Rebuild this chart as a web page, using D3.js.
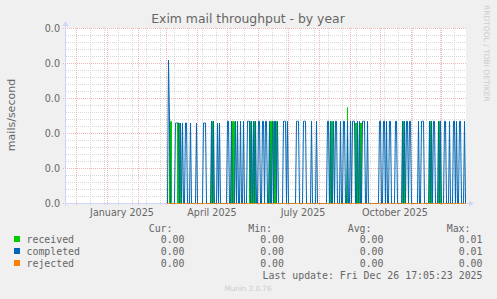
<!DOCTYPE html>
<html>
<head>
<meta charset="utf-8">
<script src="https://cdn.jsdelivr.net/npm/d3@7/dist/d3.min.js"></script>
<style>
    html, body { margin: 0; padding: 0; background: #f0f0f0; }
</style>
</head>
<body>
<div id="chart"></div>
<script>
const parseDay = d3.timeParse("%Y-%m-%d");

// Graph window (400 days, one pixel per day) and first day with stored data
const periodDates = ["2024-11-21", "2025-12-26"];
const firstDataDay = "2025-03-02";

const seriesNames = ["received", "completed", "rejected"];

// received: runs of days with a steady rate (mails/second)
const receivedFrom = ["2025-03-04", "2025-03-12", "2025-04-15", "2025-05-05", "2025-05-23", "2025-05-27",
    "2025-06-12", "2025-06-16", "2025-08-12", "2025-08-29", "2025-09-06", "2025-09-10",
    "2025-10-23", "2025-11-19", "2025-11-28"];
const receivedTo = ["2025-03-06", "2025-03-15", "2025-04-17", "2025-05-08", "2025-05-25", "2025-05-29",
    "2025-06-14", "2025-06-19", "2025-08-14", "2025-08-29", "2025-09-08", "2025-09-12",
    "2025-10-25", "2025-11-21", "2025-11-30"];
const receivedValues = [0.0047, 0.0046, 0.0047, 0.0047, 0.0047, 0.0047,
    0.0047, 0.0047, 0.0047, 0.0055, 0.0046, 0.0046,
    0.0047, 0.0047, 0.0047];

// completed: first day of each burst, how many days it lasted, and its rate
const completedDays = ["2025-03-03", "2025-03-04", "2025-03-10", "2025-03-12", "2025-03-15", "2025-03-17",
    "2025-03-20", "2025-03-25", "2025-03-31", "2025-04-07", "2025-04-09", "2025-04-15", "2025-04-17",
    "2025-04-21", "2025-04-23", "2025-05-01", "2025-05-05", "2025-05-09", "2025-05-11", "2025-05-14",
    "2025-05-17", "2025-05-21", "2025-05-23", "2025-05-25", "2025-05-27", "2025-05-29", "2025-06-01",
    "2025-06-05", "2025-06-08", "2025-06-12", "2025-06-15", "2025-06-17", "2025-06-20", "2025-06-26",
    "2025-06-28", "2025-06-30", "2025-07-09", "2025-07-11", "2025-07-16", "2025-07-18", "2025-07-24",
    "2025-07-29", "2025-08-09", "2025-08-12", "2025-08-15", "2025-08-17", "2025-08-22", "2025-08-25",
    "2025-08-29", "2025-09-01", "2025-09-03", "2025-09-05", "2025-09-08", "2025-09-10", "2025-09-13",
    "2025-09-15", "2025-09-18", "2025-09-30", "2025-10-04", "2025-10-07", "2025-10-10", "2025-10-16",
    "2025-10-23", "2025-10-25", "2025-10-27", "2025-10-30", "2025-11-08", "2025-11-11", "2025-11-13",
    "2025-11-19", "2025-11-21", "2025-11-23", "2025-11-28", "2025-11-30", "2025-12-04", "2025-12-09",
    "2025-12-13", "2025-12-16", "2025-12-19", "2025-12-24"];
const completedSpans = [1, 1, 2, 2, 1, 1,
    2, 1, 1, 2, 1, 1, 1,
    1, 1, 2, 1, 1, 1, 1,
    1, 2, 1, 1, 1, 1, 2,
    2, 2, 1, 1, 2, 1, 2,
    1, 1, 2, 1, 2, 1, 1,
    1, 2, 1, 1, 2, 1, 2,
    1, 1, 2, 1, 1, 1, 2,
    1, 1, 2, 2, 1, 2, 2,
    1, 1, 2, 2, 1, 2, 1,
    1, 1, 2, 1, 1, 2, 1,
    2, 1, 2, 1];
const completedValues = [0.0082, 0.0047, 0.0046, 0.0046, 0.0046, 0.0046,
    0.0046, 0.0046, 0.0046, 0.0046, 0.0046, 0.0047, 0.0047,
    0.0046, 0.0046, 0.0047, 0.0047, 0.0047, 0.0047, 0.0047,
    0.0047, 0.0047, 0.0047, 0.0047, 0.0047, 0.0047, 0.0047,
    0.0047, 0.0047, 0.0047, 0.0047, 0.0047, 0.0047, 0.0047,
    0.0047, 0.0047, 0.0047, 0.0047, 0.0047, 0.0047, 0.0047,
    0.0047, 0.0047, 0.0047, 0.0047, 0.0047, 0.0047, 0.0047,
    0.0047, 0.0047, 0.0047, 0.0047, 0.0047, 0.0047, 0.0047,
    0.0047, 0.0047, 0.0047, 0.0047, 0.0047, 0.0047, 0.0047,
    0.0047, 0.0047, 0.0047, 0.0047, 0.0047, 0.0047, 0.0047,
    0.0047, 0.0047, 0.0047, 0.0047, 0.0047, 0.0047, 0.0047,
    0.0047, 0.0047, 0.0047, 0.0047];

// rejected: no rejections over the whole year
const rejectedValue = 0;

const yTicks = [0, 0.002, 0.004, 0.006, 0.008, 0.01];
const xLabels = ["January 2025", "April 2025", "July 2025", "October 2025"];
const xLabelDates = ["2025-01-16", "2025-04-16", "2025-07-16", "2025-10-16"];

const statHeaders = ["Cur:", "Min:", "Avg:", "Max:"];
const statCur = [0, 0, 0];
const statMin = [0, 0, 0];
const statAvg = [0, 0, 0];
const statMax = [0.01, 0.01, 0.0];
const lastUpdate = "Fri Dec 26 17:05:23 2025";

class Chart {
    constructor() {
        const attrs = {
            container: "#chart",
            svgWidth: 497,
            svgHeight: 299,
            plotLeft: 66,
            plotRight: 466,
            plotTop: 28,
            plotBottom: 203,
            defaultFont: "DejaVu Sans",
            monoFont: "DejaVu Sans Mono",
            fontColor: "#666666",
            axisColor: "#cfd6f8",
            gridColor: "#d8d8d8",
            majorGridColor: "#f2b4b4",
            colors: ["#00cc00", "#0066b3", "#ff8000"]
        };
        this.getState = () => attrs;
        this.setState = (d) => Object.assign(attrs, d);
    }

    render() {
        this.buildData();
        this.drawSvg();
        this.drawGrid();
        this.drawSeries();
        this.drawAxes();
        this.drawTexts();
        this.drawLegend();
        return this;
    }

    buildData() {
        const { plotLeft, plotRight, plotTop, plotBottom } = this.getState();

        const end = parseDay(periodDates[1]);
        const days = d3.timeDay.range(parseDay(firstDataDay), d3.timeDay.offset(end, 1));

        const receivedByDay = new Map();
        receivedFrom.forEach((from, i) => {
            d3.timeDay.range(parseDay(from), d3.timeDay.offset(parseDay(receivedTo[i]), 1))
                .forEach(day => receivedByDay.set(+day, receivedValues[i]));
        });

        const completedByDay = new Map();
        completedDays.forEach((from, i) => {
            const start = parseDay(from);
            d3.timeDay.range(start, d3.timeDay.offset(start, completedSpans[i]))
                .forEach(day => completedByDay.set(+day, completedValues[i]));
        });

        const daily = days.map(day => ({
            day,
            received: receivedByDay.get(+day) || 0,
            completed: completedByDay.get(+day) || 0,
            rejected: rejectedValue
        }));

        const x = d3.scaleTime()
            .domain(periodDates.map(parseDay))
            .range([plotLeft, plotRight]);
        const y = d3.scaleLinear()
            .domain([yTicks[0], yTicks[yTicks.length - 1]])
            .range([plotBottom, plotTop]);

        this.setState({ daily, x, y });
    }

    drawSvg() {
        const { container, svgWidth, svgHeight, defaultFont, plotLeft, plotRight, plotTop, plotBottom } = this.getState();
        const svg = d3.select(container).append("svg")
            .attr("width", svgWidth)
            .attr("height", svgHeight)
            .attr("font-family", defaultFont)
            .style("display", "block");

        svg.append("rect")
            .attr("width", svgWidth)
            .attr("height", svgHeight)
            .attr("fill", "#f0f0f0");

        svg.append("rect")
            .attr("x", plotLeft)
            .attr("y", plotTop)
            .attr("width", plotRight - plotLeft)
            .attr("height", plotBottom - plotTop + 1)
            .attr("fill", "#ffffff");

        this.setState({ svg });
    }

    drawGrid() {
        const { svg, x, y, plotLeft, plotRight, plotTop, plotBottom, gridColor, majorGridColor } = this.getState();
        const grid = svg.append("g").attr("class", "grid");
        const [start, end] = x.domain();

        // minor vertical lines every second Sunday, major on month starts
        const minorDays = d3.range(-1, 30)
            .map(i => d3.timeDay.offset(parseDay("2024-12-01"), 14 * i))
            .filter(d => d > start && d < end);
        const months = d3.timeMonth.range(start, end);

        const step = (yTicks[1] - yTicks[0]) / 5;
        const minorValues = d3.range(0, 26).map(i => i * step).filter((v, i) => i % 5 !== 0);

        grid.selectAll(".vminor").data(minorDays).join("line")
            .attr("class", "vminor")
            .attr("x1", d => Math.round(x(d)) + 0.5).attr("x2", d => Math.round(x(d)) + 0.5)
            .attr("y1", plotTop).attr("y2", plotBottom + 2)
            .attr("stroke", gridColor).attr("stroke-dasharray", "1,1");

        grid.selectAll(".hminor").data(minorValues).join("line")
            .attr("class", "hminor")
            .attr("x1", plotLeft).attr("x2", plotRight)
            .attr("y1", d => Math.round(y(d)) + 0.5).attr("y2", d => Math.round(y(d)) + 0.5)
            .attr("stroke", gridColor).attr("stroke-dasharray", "1,1");

        grid.selectAll(".vmajor").data(months).join("line")
            .attr("class", "vmajor")
            .attr("x1", d => Math.round(x(d)) + 0.5).attr("x2", d => Math.round(x(d)) + 0.5)
            .attr("y1", plotTop).attr("y2", plotBottom + 3)
            .attr("stroke", majorGridColor).attr("stroke-dasharray", "1,1");

        grid.selectAll(".hmajor").data(yTicks).join("line")
            .attr("class", "hmajor")
            .attr("x1", plotLeft - 3).attr("x2", plotRight)
            .attr("y1", d => Math.round(y(d)) + 0.5).attr("y2", d => Math.round(y(d)) + 0.5)
            .attr("stroke", majorGridColor).attr("stroke-dasharray", "1,1");
    }

    drawSeries() {
        const { svg, x, y, daily, colors } = this.getState();
        const g = svg.append("g").attr("class", "series").attr("transform", "translate(0,0.5)");

        const last = daily[daily.length - 1];
        const areaData = daily.concat([{ ...last, day: d3.timeDay.offset(last.day, 1) }]);

        const area = d3.area()
            .x(d => x(d.day))
            .y0(y(0))
            .y1(d => y(d.received))
            .curve(d3.curveStepAfter);

        g.append("path")
            .datum(areaData)
            .attr("d", area)
            .attr("fill", colors[0]);

        const line = key => d3.line()
            .x(d => x(d.day) + 0.5)
            .y(d => y(d[key]));

        g.append("path")
            .datum(daily)
            .attr("d", line("completed"))
            .attr("fill", "none")
            .attr("stroke", colors[1])
            .attr("stroke-width", 1);

        g.append("path")
            .datum(daily)
            .attr("d", line("rejected"))
            .attr("fill", "none")
            .attr("stroke", colors[2])
            .attr("stroke-width", 1);
    }

    drawAxes() {
        const { svg, x, y, plotLeft, plotRight, plotTop, plotBottom, axisColor, fontColor } = this.getState();
        const g = svg.append("g").attr("class", "axes");
        const firstData = x(parseDay(firstDataDay));

        // x axis up to the first stored day, the data lines cover the rest
        g.append("line")
            .attr("x1", plotLeft - 1).attr("x2", firstData)
            .attr("y1", plotBottom + 0.5).attr("y2", plotBottom + 0.5)
            .attr("stroke", axisColor);
        g.append("line")
            .attr("x1", plotRight).attr("x2", plotRight + 4)
            .attr("y1", plotBottom + 0.5).attr("y2", plotBottom + 0.5)
            .attr("stroke", axisColor);
        g.append("path")
            .attr("d", `M${plotRight + 3},${plotBottom - 2.5}L${plotRight + 8},${plotBottom + 0.5}L${plotRight + 3},${plotBottom + 3.5}Z`)
            .attr("fill", axisColor);

        g.append("line")
            .attr("x1", plotLeft - 0.5).attr("x2", plotLeft - 0.5)
            .attr("y1", plotTop - 4).attr("y2", plotBottom + 3)
            .attr("stroke", axisColor);
        g.append("path")
            .attr("d", `M${plotLeft - 3.5},${plotTop - 2}L${plotLeft - 0.5},${plotTop - 7}L${plotLeft + 2.5},${plotTop - 2}Z`)
            .attr("fill", axisColor);

        const fmt = d3.format(".1f");
        g.selectAll(".ylabel").data(yTicks).join("text")
            .attr("class", "ylabel")
            .attr("x", plotLeft - 6)
            .attr("y", d => y(d) + 0.5)
            .attr("dy", "0.35em")
            .attr("text-anchor", "end")
            .attr("font-size", "9.6px")
            .attr("fill", fontColor)
            .text(d => fmt(d));

        g.selectAll(".xlabel").data(xLabels).join("text")
            .attr("class", "xlabel")
            .attr("x", (d, i) => x(parseDay(xLabelDates[i])))
            .attr("y", plotBottom + 13)
            .attr("text-anchor", "middle")
            .attr("font-size", "9.6px")
            .attr("fill", fontColor)
            .text(d => d);
    }

    drawTexts() {
        const { svg, svgWidth, fontColor } = this.getState();

        svg.append("text")
            .attr("x", 248)
            .attr("y", 23)
            .attr("text-anchor", "middle")
            .attr("font-size", "12.4px")
            .attr("fill", fontColor)
            .text("Exim mail throughput - by year");

        svg.append("text")
            .attr("transform", "translate(15,115) rotate(-90)")
            .attr("text-anchor", "middle")
            .attr("font-size", "11px")
            .attr("fill", fontColor)
            .text("mails/second");

        svg.append("text")
            .attr("transform", `translate(${svgWidth - 13},5) rotate(90)`)
            .attr("font-size", "7.5px")
            .attr("fill", "#cccccc")
            .text("RRDTOOL / TOBI OETIKER");

        svg.append("text")
            .attr("x", 248)
            .attr("y", 291)
            .attr("text-anchor", "middle")
            .attr("font-size", "7.2px")
            .attr("fill", "#cccccc")
            .text("Munin 2.0.76");
    }

    drawLegend() {
        const { svg, monoFont, colors, fontColor } = this.getState();
        const g = svg.append("g").attr("class", "legend")
            .attr("font-family", monoFont)
            .attr("font-size", "9.9px")
            .attr("fill", fontColor);

        const colEnds = [184.5, 284, 383.5, 482.5];
        const headerEnds = [172.5, 272, 371.5, 470.5];
        const rowY = i => 243 + i * 12;
        const fmt = d3.format(".2f");
        const stats = [statCur, statMin, statAvg, statMax];

        g.selectAll(".head").data(statHeaders).join("text")
            .attr("class", "head")
            .attr("x", (d, i) => headerEnds[i])
            .attr("y", 231.5)
            .attr("text-anchor", "end")
            .text(d => d);

        g.selectAll(".swatch").data(seriesNames).join("rect")
            .attr("class", "swatch")
            .attr("x", 14)
            .attr("y", (d, i) => rowY(i) - 7)
            .attr("width", 6)
            .attr("height", 6)
            .attr("fill", (d, i) => colors[i]);

        g.selectAll(".name").data(seriesNames).join("text")
            .attr("class", "name")
            .attr("x", 26.5)
            .attr("y", (d, i) => rowY(i))
            .text(d => d);

        stats.forEach((col, c) => {
            g.selectAll(".stat" + c).data(col).join("text")
                .attr("class", "stat" + c)
                .attr("x", colEnds[c])
                .attr("y", (d, i) => rowY(i))
                .attr("text-anchor", "end")
                .text(d => fmt(d));
        });

        g.append("text")
            .attr("x", 482.5)
            .attr("y", rowY(3))
            .attr("text-anchor", "end")
            .text("Last update: " + lastUpdate);
    }
}

new Chart().render();
</script>
</body>
</html>
